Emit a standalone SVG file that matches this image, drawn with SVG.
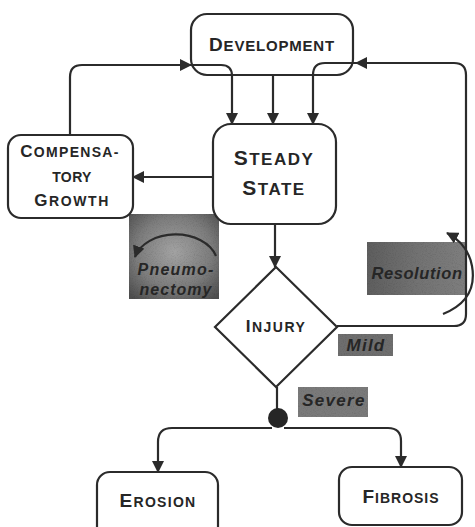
<svg xmlns="http://www.w3.org/2000/svg" width="475" height="527" viewBox="0 0 475 527">
  <style>
    .box { fill: #ffffff; stroke: #2b2b2b; stroke-width: 2.2; }
    .lbl { font-family: "Liberation Sans", Arial, sans-serif; font-weight: bold; fill: #262626; text-anchor: middle; }
    .tag { font-family: "Liberation Sans", Arial, sans-serif; font-weight: bold; font-style: italic; fill: #262626; text-anchor: middle; }
    .wire { fill: none; stroke: #2b2b2b; stroke-width: 2.2; }
    .arr { marker-end: url(#head); }
  </style>
  <defs>
    <marker id="head" markerUnits="userSpaceOnUse" markerWidth="12" markerHeight="12" viewBox="0 0 12 12" refX="11" refY="6" orient="auto">
      <path d="M0,0 L12,6 L0,12 Z" fill="#2b2b2b"/>
    </marker>
    <radialGradient id="pnFill" cx="0.5" cy="0.45" r="0.7">
      <stop offset="0" stop-color="#a3a3a3"/>
      <stop offset="0.6" stop-color="#7c7c7c"/>
      <stop offset="1" stop-color="#4e4e4e"/>
    </radialGradient>
    <linearGradient id="resFill" x1="0" y1="0" x2="1" y2="0">
      <stop offset="0" stop-color="#5e5e5e"/>
      <stop offset="0.5" stop-color="#727272"/>
      <stop offset="1" stop-color="#7e7e7e"/>
    </linearGradient>
    <filter id="grain" x="0" y="0" width="1" height="1">
      <feTurbulence type="fractalNoise" baseFrequency="0.9" numOctaves="2" seed="4" result="noise"/>
      <feColorMatrix in="noise" type="saturate" values="0" result="gray"/>
      <feComponentTransfer in="gray" result="soft">
        <feFuncR type="linear" slope="0.6" intercept="0.68"/>
        <feFuncG type="linear" slope="0.6" intercept="0.68"/>
        <feFuncB type="linear" slope="0.6" intercept="0.68"/>
        <feFuncA type="table" tableValues="1 1"/>
      </feComponentTransfer>
      <feBlend in="SourceGraphic" in2="soft" mode="multiply" result="mix"/>
      <feComposite in="mix" in2="SourceGraphic" operator="in"/>
    </filter>
  </defs>

  <!-- top node sits under its own incoming/outgoing lines -->
  <g id="development">
    <rect class="box" x="191" y="14" width="162" height="61" rx="16"/>
    <text class="lbl" x="272" y="51" font-size="15" letter-spacing="0.8"><tspan font-size="19">D</tspan>EVELOPMENT</text>
  </g>

  <!-- shaded annotation labels -->
  <g id="pneumonectomy">
    <rect x="129" y="214" width="90" height="85" fill="url(#pnFill)" filter="url(#grain)"/>
    <path class="wire arr" d="M216,256 A42,30 0 0 0 135,257"/>
    <text class="tag" x="176" y="275" font-size="16" letter-spacing="1.2">Pneumo-</text>
    <text class="tag" x="176" y="295" font-size="16" letter-spacing="1">nectomy</text>
  </g>
  <g id="resolution">
    <rect x="367" y="242" width="100" height="53" fill="url(#resFill)" filter="url(#grain)"/>
    <text class="tag" x="417" y="279" font-size="16.5" letter-spacing="0.6">Resolution</text>
    <path class="wire arr" d="M443,314 Q478,300 472,266 Q468,244 447,233"/>
  </g>
  <g id="mild">
    <rect x="338" y="334" width="55" height="22" fill="#6e6e6e" filter="url(#grain)"/>
    <text class="tag" x="366" y="351" font-size="17" letter-spacing="1.2">Mild</text>
  </g>
  <g id="severe">
    <rect x="298" y="387" width="70" height="30" fill="#7a7a7a" filter="url(#grain)"/>
    <text class="tag" x="334" y="406" font-size="17" letter-spacing="1.3">Severe</text>
  </g>

  <!-- connectors -->
  <g id="connectors">
    <path class="wire arr" d="M70,135 V77 Q70,65 82,65 H191"/>
    <path class="wire arr" d="M191,65 H221 Q232,65 232,76 V124"/>
    <path class="wire arr" d="M273,75 V124"/>
    <path class="wire arr" d="M337,326 H454 Q466,326 466,314 V75 Q466,63 454,63 H356"/>
    <path class="wire arr" d="M356,63 H325 Q313,63 313,75 V124"/>
    <path class="wire arr" d="M213,177 H133"/>
    <path class="wire arr" d="M275,224 V267"/>
    <path class="wire" d="M277,387 V410"/>
    <path class="wire arr" d="M272,428 H172 Q158,428 158,442 V472"/>
    <path class="wire arr" d="M284,428 H388 Q401,428 401,441 V467"/>
    <circle cx="278" cy="418" r="10" fill="#262626"/>
  </g>

  <!-- nodes -->
  <g id="steady-state">
    <rect class="box" x="213" y="124" width="123" height="100" rx="18"/>
    <text class="lbl" x="274" y="165" font-size="17" letter-spacing="1.5"><tspan font-size="21">S</tspan>TEADY</text>
    <text class="lbl" x="274" y="195" font-size="17" letter-spacing="1.5"><tspan font-size="21">S</tspan>TATE</text>
  </g>
  <g id="compensatory-growth">
    <rect class="box" x="8" y="135" width="125" height="83" rx="13"/>
    <text class="lbl" x="70" y="157" font-size="14" letter-spacing="1.3"><tspan font-size="17">C</tspan>OMPENSA-</text>
    <text class="lbl" x="72" y="182" font-size="14" letter-spacing="0.4">TORY</text>
    <text class="lbl" x="72" y="206" font-size="14" letter-spacing="1.6"><tspan font-size="17">G</tspan>ROWTH</text>
  </g>
  <g id="injury">
    <path class="box" d="M276,267 L337,327 L276,387 L215,327 Z"/>
    <text class="lbl" x="276" y="332" font-size="14" letter-spacing="1.5"><tspan font-size="17">I</tspan>NJURY</text>
  </g>
  <g id="erosion">
    <rect class="box" x="97" y="472" width="121" height="70" rx="13"/>
    <text class="lbl" x="158" y="507" font-size="14" letter-spacing="1.3"><tspan font-size="19">E</tspan>ROSION</text>
  </g>
  <g id="fibrosis">
    <rect class="box" x="339" y="467" width="123" height="58" rx="13"/>
    <text class="lbl" x="401" y="503" font-size="14" letter-spacing="1"><tspan font-size="19">F</tspan>IBROSIS</text>
  </g>
</svg>
